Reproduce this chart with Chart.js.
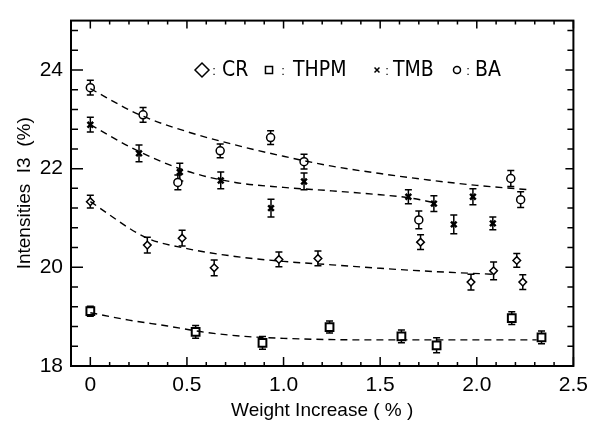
<!DOCTYPE html>
<html>
<head>
<meta charset="utf-8">
<script src="https://cdn.jsdelivr.net/npm/chart.js@4.4.0/dist/chart.umd.min.js"></script>
<style>
  html, body { margin: 0; padding: 0; background: #fff; }
</style>
</head>
<body>
<canvas id="myChart" width="595" height="423"></canvas>
<script>
// measured points (x = weight increase %, y = intensity I3 %, err = half error bar)
var crX = [0, 0.295, 0.475, 0.641, 0.976, 1.178, 1.709, 1.97, 2.087, 2.207, 2.238]
var crY = [21.33, 20.45, 20.59, 19.99, 20.16, 20.18, 20.51, 19.70, 19.93, 20.14, 19.70]
var crErr = [0.13, 0.16, 0.16, 0.16, 0.15, 0.15, 0.15, 0.16, 0.18, 0.14, 0.15]

var thpmX = [0, 0.545, 0.891, 1.238, 1.61, 1.792, 2.181, 2.335]
var thpmY = [19.11, 18.69, 18.47, 18.79, 18.60, 18.42, 18.97, 18.58]
var thpmErr = [0.10, 0.13, 0.13, 0.12, 0.13, 0.15, 0.13, 0.13]

var tmbX = [0, 0.252, 0.463, 0.675, 0.935, 1.106, 1.646, 1.778, 1.881, 1.98, 2.083]
var tmbY = [22.89, 22.31, 21.93, 21.76, 21.20, 21.74, 21.43, 21.29, 20.87, 21.43, 20.89]
var tmbErr = [0.15, 0.17, 0.18, 0.17, 0.18, 0.17, 0.14, 0.16, 0.19, 0.16, 0.13]

var baX = [0, 0.273, 0.453, 0.672, 0.933, 1.106, 1.70, 2.176, 2.227]
var baY = [23.64, 23.09, 21.72, 22.36, 22.63, 22.14, 20.96, 21.80, 21.37]
var baErr = [0.15, 0.15, 0.15, 0.14, 0.14, 0.15, 0.18, 0.16, 0.16]

// dashed fitted curves
var crFitX = [0, 0.29, 0.5, 0.75, 1.0, 1.25, 1.5, 1.75, 2.08]
var crFitY = [21.33, 20.6, 20.38, 20.22, 20.12, 20.05, 19.98, 19.92, 19.86]
var thpmFitX = [0, 0.2, 0.4, 0.6, 0.8, 1.0, 1.4, 2.31]
var thpmFitY = [19.08, 18.93, 18.81, 18.68, 18.6, 18.56, 18.53, 18.53]
var tmbFitX = [0, 0.25, 0.5, 0.75, 1.0, 1.25, 1.5, 1.65, 1.78]
var tmbFitY = [22.89, 22.35, 21.95, 21.72, 21.62, 21.55, 21.47, 21.41, 21.31]
var baFitX = [0, 0.25, 0.5, 0.75, 1.0, 1.25, 1.5, 1.75, 2.0, 2.28]
var baFitY = [23.62, 23.1, 22.75, 22.48, 22.25, 22.05, 21.9, 21.77, 21.66, 21.57]

var xTicks = [0, 0.5, 1.0, 1.5, 2.0, 2.5]
var yTicks = [18, 20, 22, 24]
var legendNames = ['CR', 'THPM', 'TMB', 'BA']

var FONT = '"Liberation Sans", Arial, sans-serif'
var NARROW = '"Liberation Sans Narrow", "DejaVu Sans Condensed", sans-serif'

function pts(xs, ys) {
    return xs.map(function (x, i) { return { x: x, y: ys[i] } })
}

function series(label, xs, ys, err, style, radius, width) {
    return {
        label: label,
        data: pts(xs, ys),
        err: err,
        pointStyle: style,
        pointRadius: radius,
        pointHoverRadius: radius,
        pointBorderWidth: width,
        borderColor: '#000',
        backgroundColor: '#fff',
        showLine: false
    }
}

function fit(xs, ys) {
    return {
        label: 'fit',
        data: pts(xs, ys),
        showLine: true,
        pointRadius: 0,
        borderColor: '#000',
        borderWidth: 1.4,
        borderDash: [7, 5],
        cubicInterpolationMode: 'monotone',
        fill: false
    }
}

var errorBars = {
    id: 'errorBars',
    beforeDatasetsDraw: function (chart) {
        var ctx = chart.ctx
        var xs = chart.scales.x, ys = chart.scales.y
        ctx.save()
        ctx.strokeStyle = '#000'
        ctx.lineWidth = 1.5
        chart.data.datasets.forEach(function (ds) {
            if (!ds.err) return
            ds.data.forEach(function (p, i) {
                var px = xs.getPixelForValue(p.x)
                var y1 = ys.getPixelForValue(p.y - ds.err[i])
                var y2 = ys.getPixelForValue(p.y + ds.err[i])
                ctx.beginPath()
                ctx.moveTo(px, y1); ctx.lineTo(px, y2)
                ctx.moveTo(px - 3.5, y1); ctx.lineTo(px + 3.5, y1)
                ctx.moveTo(px - 3.5, y2); ctx.lineTo(px + 3.5, y2)
                ctx.stroke()
            })
        })
        ctx.restore()
    }
}

var frame = {
    id: 'frame',
    afterDraw: function (chart) {
        var ctx = chart.ctx, a = chart.chartArea
        var xs = chart.scales.x, ys = chart.scales.y
        ctx.save()
        ctx.strokeStyle = '#000'
        ctx.lineWidth = 2
        ctx.strokeRect(a.left, a.top, a.right - a.left, a.bottom - a.top)
        ctx.lineWidth = 1.5
        ctx.beginPath()
        // x ticks every 0.1, inward, top and bottom
        for (var k = -1; k <= 25; k++) {
            var px = xs.getPixelForValue(k / 10)
            var major = k % 5 === 0
            ctx.moveTo(px, a.bottom); ctx.lineTo(px, a.bottom - (major ? 9 : 4))
            ctx.moveTo(px, a.top); ctx.lineTo(px, a.top + (major ? 8 : 4))
        }
        // y ticks every 0.4, inward, left and right
        for (var j = 0; j <= 17; j++) {
            var py = ys.getPixelForValue(18 + j * 0.4)
            var maj = j % 5 === 0
            ctx.moveTo(a.left, py); ctx.lineTo(a.left + (maj ? 12 : 7), py)
            ctx.moveTo(a.right, py); ctx.lineTo(a.right - (maj ? 8 : 6), py)
        }
        ctx.stroke()

        // legend inside the plot
        var ly = ys.getPixelForValue(24)
        ctx.fillStyle = '#000'
        ctx.textBaseline = 'middle'
        var marks = [
            { mx: 202, style: 'rectRot', r: 7, cx: 214, tx: 222 },
            { mx: 269, style: 'rect', r: 5, cx: 283, tx: 293 },
            { mx: 377, style: 'crossRot', r: 3.5, cx: 387, tx: 393 },
            { mx: 457, style: 'circle', r: 3.5, cx: 468, tx: 475 }
        ]
        marks.forEach(function (m, i) {
            ctx.save()
            ctx.lineWidth = 1.5
            ctx.fillStyle = '#fff'
            Chart.helpers.drawPoint(ctx, { pointStyle: m.style, radius: m.r, borderWidth: 1.5 }, m.mx, ly)
            ctx.restore()
            ctx.textAlign = 'center'
            ctx.font = '13px ' + FONT
            ctx.fillText(':', m.cx, ly + 1)
            ctx.textAlign = 'left'
            ctx.font = '21px ' + NARROW
            ctx.fillText(legendNames[i], m.tx, ly + 1)
        })
        ctx.restore()
    }
}

var ctx = document.getElementById('myChart').getContext('2d')
var myChart = new Chart(ctx, {
    type: 'scatter',
    data: {
        datasets: [
            fit(crFitX, crFitY),
            fit(thpmFitX, thpmFitY),
            fit(tmbFitX, tmbFitY),
            fit(baFitX, baFitY),
            series('CR', crX, crY, crErr, 'rectRot', 3.8, 1.5),
            series('THPM', thpmX, thpmY, thpmErr, 'rect', 5.5, 2),
            series('TMB', tmbX, tmbY, tmbErr, 'crossRot', 4, 2.5),
            series('BA', baX, baY, baErr, 'circle', 4, 1.5)
        ]
    },
    options: {
        responsive: false,
        animation: false,
        devicePixelRatio: 1,
        layout: { padding: { top: 13, right: 18, left: 0, bottom: 0 } },
        plugins: {
            legend: { display: false },
            tooltip: { enabled: false }
        },
        scales: {
            x: {
                type: 'linear',
                min: -0.1,
                max: 2.5,
                grid: { display: false, drawTicks: false },
                border: { display: false },
                afterBuildTicks: function (s) {
                    s.ticks = xTicks.map(function (v) { return { value: v } })
                },
                afterFit: function (s) { s.height = 57 },
                ticks: {
                    padding: 7,
                    color: '#000',
                    font: { family: FONT, size: 21 },
                    callback: function (v) { return v === 0 ? '0' : v.toFixed(1) }
                },
                title: {
                    display: true,
                    text: 'Weight Increase ( % )',
                    color: '#000',
                    font: { family: FONT, size: 19 },
                    padding: { bottom: 1 }
                }
            },
            y: {
                min: 18,
                max: 25,
                grid: { display: false, drawTicks: false },
                border: { display: false },
                afterBuildTicks: function (s) {
                    s.ticks = yTicks.map(function (v) { return { value: v } })
                },
                afterFit: function (s) { s.width = 71 },
                ticks: {
                    padding: 8,
                    color: '#000',
                    font: { family: FONT, size: 21 }
                },
                title: {
                    display: true,
                    text: 'Intensities  I3  (%)',
                    color: '#000',
                    font: { family: FONT, size: 19 },
                    padding: { top: 13 }
                }
            }
        }
    },
    plugins: [errorBars, frame]
})
</script>
</body>
</html>
